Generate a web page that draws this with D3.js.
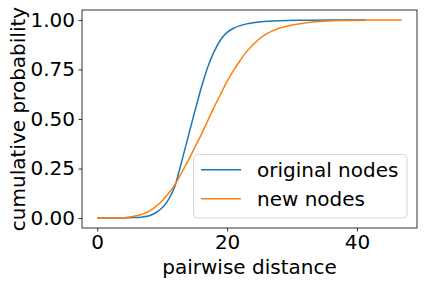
<!DOCTYPE html>
<html><head><meta charset="utf-8">
<script src="https://cdn.jsdelivr.net/npm/d3@7"></script>
<style>
html,body{margin:0;padding:0;background:#fff;}
svg{display:block;font-family:"DejaVu Sans",sans-serif;}
</style></head>
<body>
<svg id="chart" width="424" height="284"></svg>
<script>
// Data
const seriesNames = ["original nodes", "new nodes"];
const seriesColors = ["#1f77b4", "#ff7f0e"];
const originalDist = [0,3,5,7,8,9,10,11,12,13,14,15,16,17,18,19,20,21,22,23,25,28,32,36,41.4];
const originalProb = [0,0.0005,0.002,0.006,0.012,0.027,0.052,0.095,0.165,0.285,0.41,0.535,0.655,0.76,0.84,0.9,0.937,0.958,0.971,0.98,0.99,0.996,0.998,0.999,1.0];
const newDist = [0,3,5,6,7,8,9,10,11,12,13,14,15,16,17,18,19,20,21,22,23,24,25,26,28,30,32,34.3,38,42,46.9];
const newProb = [0,0.001,0.006,0.012,0.02,0.035,0.058,0.088,0.125,0.17,0.23,0.29,0.355,0.42,0.49,0.56,0.625,0.69,0.745,0.795,0.84,0.875,0.905,0.928,0.958,0.974,0.985,0.992,0.997,0.999,1.0];
const xTicks = [0,20,40];
const yTicks = [0,0.25,0.5,0.75,1.0];
const xLabel = "pairwise distance";
const yLabel = "cumulative probability";

const svg = d3.select("#chart");
const L = 82, R = 417, T = 10, B = 228;
const xMin = 0, xMax = 46.9;
const xPad = (xMax - xMin) * 0.05;
const x = d3.scaleLinear().domain([xMin - xPad, xMax + xPad]).range([L, R]);
const y = d3.scaleLinear().domain([-0.05, 1.05]).range([B, T]);
const FS = 20;

const series = [
  originalDist.map((d, i) => [d, originalProb[i]]),
  newDist.map((d, i) => [d, newProb[i]])
];

const line = d3.line().x(d => x(d[0])).y(d => y(d[1])).curve(d3.curveMonotoneX);
series.forEach((s, i) => {
  svg.append("path").attr("d", line(s)).attr("fill", "none")
    .attr("stroke", seriesColors[i]).attr("stroke-width", 1.5);
});

// axes
const xAxis = d3.axisBottom(x).tickValues(xTicks).tickFormat(d3.format("d")).tickSize(3.5).tickPadding(3.5);
const yAxis = d3.axisLeft(y).tickValues(yTicks).tickFormat(d3.format(".2f")).tickSize(3.5).tickPadding(3.5);
const gx = svg.append("g").attr("transform", `translate(0,${B})`).call(xAxis);
const gy = svg.append("g").attr("transform", `translate(${L},0)`).call(yAxis);
[gx, gy].forEach(g => {
  g.select(".domain").remove();
  g.selectAll(".tick line").attr("stroke", "#000").attr("stroke-width", 0.8);
  g.selectAll(".tick text").attr("fill", "#000").style("font-size", FS + "px")
    .style("font-family", "'DejaVu Sans', sans-serif");
});

// frame
svg.append("rect").attr("x", L).attr("y", T).attr("width", R - L).attr("height", B - T)
  .attr("fill", "none").attr("stroke", "#000").attr("stroke-width", 0.8);

// labels
svg.append("text").attr("x", (L + R) / 2).attr("y", 273.5).attr("text-anchor", "middle")
  .style("font-size", FS + "px").attr("fill", "#000").text(xLabel);
svg.append("text").attr("transform", `translate(25,${(T + B) / 2}) rotate(-90)`)
  .attr("text-anchor", "middle").style("font-size", FS + "px").attr("fill", "#000").text(yLabel);

// legend
const lg = svg.append("g");
lg.append("rect").attr("x", 193.5).attr("y", 154.5).attr("width", 213.5).attr("height", 63.5)
  .attr("rx", 4).attr("fill", "#fff").attr("fill-opacity", 0.8)
  .attr("stroke", "#d6d6d6").attr("stroke-width", 1);
const rowY = [169.7, 198.7];
seriesNames.forEach((name, i) => {
  lg.append("line").attr("x1", 201).attr("x2", 241).attr("y1", rowY[i]).attr("y2", rowY[i])
    .attr("stroke", seriesColors[i]).attr("stroke-width", 1.5);
  lg.append("text").attr("x", 257).attr("y", rowY[i] + 7).style("font-size", FS + "px")
    .attr("fill", "#000").text(name);
});
</script>
</body></html>
